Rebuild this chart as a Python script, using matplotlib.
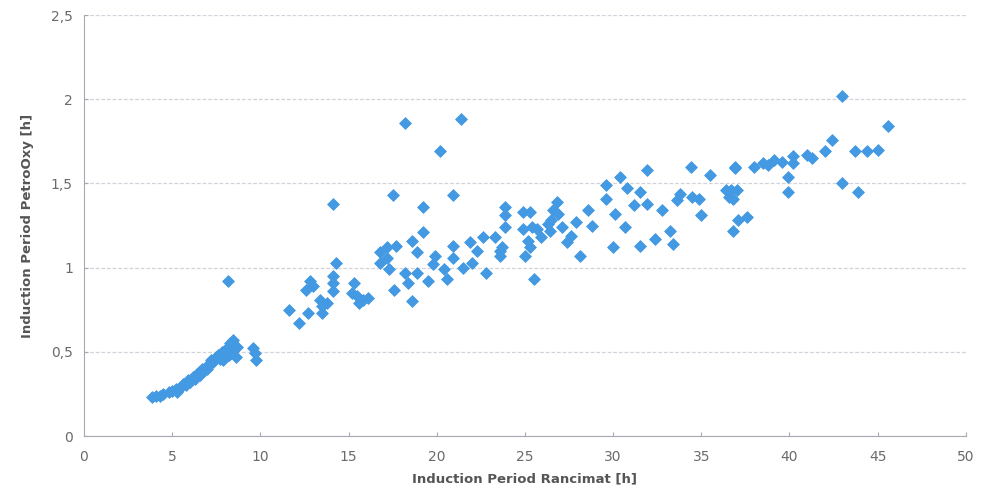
import matplotlib.pyplot as plt
from matplotlib.ticker import FuncFormatter

# Rancimat induction period [h]
rancimat = [
    3.85, 4.1, 4.3, 4.5, 4.8, 5.0, 5.2, 5.3, 5.5, 5.6, 5.8, 5.9, 6.0, 6.2, 6.3,
    6.4, 6.5, 6.6, 6.7, 6.8, 6.9, 7.0, 7.1, 7.2, 7.3, 7.5, 7.6, 7.7, 7.8, 7.9,
    8.0, 8.1, 8.2, 8.3, 8.4, 8.45, 8.6, 8.7, 8.16, 9.6, 9.7, 9.75,
    11.6, 12.2, 12.6, 12.7, 12.8, 13.0, 13.4, 13.5, 13.5, 13.8, 14.1, 14.1,
    14.1, 14.1, 14.3, 15.2, 15.3, 15.5, 15.6, 15.8, 16.1,
    16.8, 16.8, 17.2, 17.2, 17.3, 17.5, 17.6, 17.7, 18.2, 18.2, 18.4, 18.6,
    18.6, 18.9, 18.9, 19.2, 19.2, 19.5, 19.8, 19.9, 20.2, 20.4, 20.6, 20.9,
    20.9, 20.9, 21.4, 21.5, 21.9, 22.0, 22.3, 22.6, 22.8, 23.3, 23.6, 23.6,
    23.7, 23.9, 23.9, 23.9,
    24.9, 24.9, 25.0, 25.2, 25.3, 25.3, 25.4, 25.5, 25.7, 25.9, 26.3, 26.4,
    26.5, 26.6, 26.8, 26.9, 27.1, 27.4, 27.6, 27.9, 28.1, 28.6, 28.8,
    29.6, 29.6, 30.0, 30.1, 30.4, 30.7, 30.8, 31.2, 31.5, 31.5, 31.9, 31.9,
    32.4, 32.8, 33.2, 33.4, 33.6, 33.8, 34.4, 34.5, 34.9, 35.0, 35.5,
    36.4, 36.6, 36.7, 36.8, 36.8, 36.9, 36.9, 37.0, 37.1, 37.6,
    38.0, 38.5, 38.8, 39.1, 39.6, 39.9, 39.9, 40.2, 40.2, 41.0, 41.3, 42.0,
    42.4, 43.0, 43.0, 43.7, 43.9, 44.4, 45.0, 45.6,
]

# PetroOxy induction period [h]
petrooxy = [
    0.23, 0.24, 0.24, 0.25, 0.26, 0.27, 0.28, 0.26, 0.29, 0.31, 0.30, 0.33,
    0.32, 0.35, 0.34, 0.37, 0.38, 0.36, 0.40, 0.39, 0.41, 0.40, 0.43, 0.45,
    0.44, 0.47, 0.48, 0.46, 0.50, 0.45, 0.49, 0.52, 0.48, 0.55, 0.50, 0.57,
    0.47, 0.53, 0.92, 0.52, 0.49, 0.45,
    0.75, 0.67, 0.87, 0.73, 0.92, 0.89, 0.81, 0.77, 0.73, 0.79, 1.38, 0.95,
    0.91, 0.86, 1.03, 0.85, 0.91, 0.83, 0.79, 0.81, 0.82,
    1.09, 1.03, 1.12, 1.06, 0.99, 1.43, 0.87, 1.13, 1.86, 0.97, 0.91, 1.16,
    0.80, 0.97, 1.09, 1.36, 1.21, 0.92, 1.02, 1.07, 1.69, 0.99, 0.93, 1.43,
    1.13, 1.06, 1.88, 1.00, 1.15, 1.03, 1.10, 1.18, 0.97, 1.18, 1.10, 1.07,
    1.12, 1.36, 1.31, 1.24,
    1.33, 1.23, 1.07, 1.16, 1.33, 1.12, 1.24, 0.93, 1.23, 1.18, 1.26, 1.22,
    1.28, 1.34, 1.39, 1.32, 1.24, 1.15, 1.19, 1.27, 1.07, 1.34, 1.25,
    1.49, 1.41, 1.12, 1.32, 1.54, 1.24, 1.47, 1.37, 1.45, 1.13, 1.58, 1.38,
    1.17, 1.34, 1.22, 1.14, 1.40, 1.44, 1.60, 1.42, 1.41, 1.31, 1.55,
    1.46, 1.42, 1.46, 1.41, 1.22, 1.60, 1.59, 1.46, 1.28, 1.30,
    1.60, 1.62, 1.61, 1.64, 1.63, 1.54, 1.45, 1.66, 1.62, 1.67, 1.65, 1.69,
    1.76, 2.02, 1.50, 1.69, 1.45, 1.69, 1.70, 1.84,
]

x_ticks = [0, 5, 10, 15, 20, 25, 30, 35, 40, 45, 50]
y_ticks = [0, 0.5, 1, 1.5, 2, 2.5]

fig = plt.figure(figsize=(9.82, 4.92), dpi=100)
ax = fig.add_axes([0.0855, 0.1138, 0.898, 0.8557])

ax.scatter(rancimat, petrooxy, marker='D', s=36, color='#4399e2',
           edgecolors='#4399e2', linewidths=0.6, zorder=3)

ax.set_xlim(0, 50)
ax.set_ylim(0, 2.5)
ax.set_xticks(x_ticks)
ax.set_yticks(y_ticks)
ax.yaxis.set_major_formatter(FuncFormatter(lambda v, p: ('%g' % v).replace('.', ',')))

ax.grid(axis='y', color='#d2d2dc', linestyle=(0, (3, 1.5)), linewidth=0.9)
ax.set_axisbelow(True)
for s in ['top', 'right']:
    ax.spines[s].set_visible(False)
for s in ['left', 'bottom']:
    ax.spines[s].set_color('#a8a8b0')
ax.tick_params(axis='both', colors='#a8a8b0', labelcolor='#6a6a6a',
               labelsize=10, length=3, direction='in')
ax.tick_params(axis='x', pad=10)
ax.tick_params(axis='y', pad=8)

ax.set_xlabel('Induction Period Rancimat [h]', fontsize=9.5, fontweight='bold',
              color='#555555', labelpad=6)
ax.set_ylabel('Induction Period PetroOxy [h]', fontsize=9.5, fontweight='bold',
              color='#555555', labelpad=12)

fig.savefig('out.png', dpi=100)
